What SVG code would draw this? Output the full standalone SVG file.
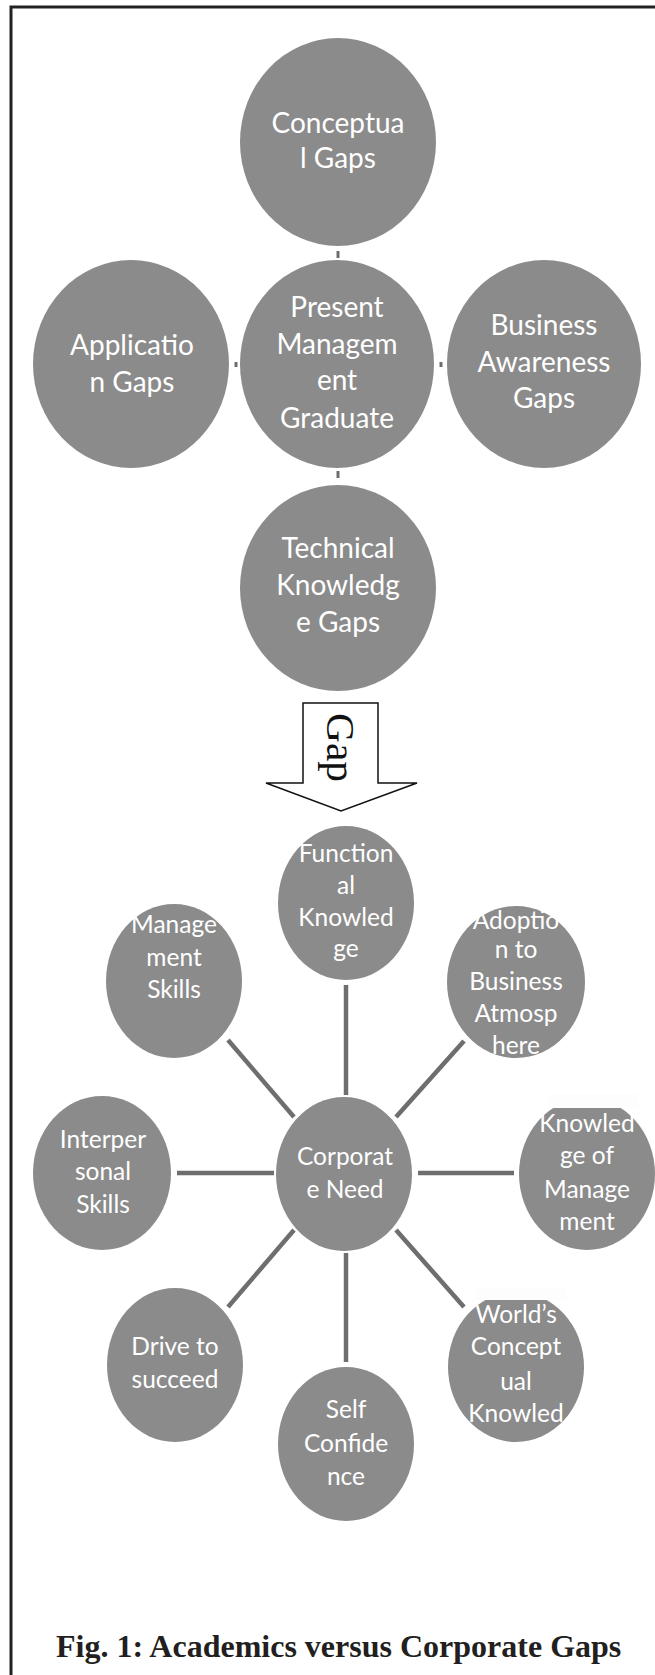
<svg xmlns="http://www.w3.org/2000/svg" width="655" height="1675" viewBox="0 0 655 1675">
<style>
.n{fill:#8b8b8b}
.t{fill:#ffffff;font-family:Lato,"Open Sans",sans-serif;text-anchor:middle}
.tt{font-size:28px}
.tb{font-size:24.5px}
.c{stroke:#6e6e6e;stroke-width:4.5;fill:none}
.k{stroke:#6e6e6e;stroke-width:3;fill:none}
.p{fill:#fdfdfd}
</style>
<rect x="0" y="0" width="655" height="1675" fill="#ffffff"/>
<path d="M11,1675 V7 H655" fill="none" stroke="#222" stroke-width="3"/>

<g id="connectors">
<line class="k" x1="338" y1="251" x2="338" y2="258"/>
<line class="k" x1="236" y1="362" x2="236" y2="367"/>
<line class="k" x1="441" y1="362" x2="441" y2="367"/>
<line class="k" x1="338" y1="471" x2="338" y2="478"/>
<line class="c" x1="346" y1="985" x2="346" y2="1095"/>
<line class="c" x1="228" y1="1040" x2="294" y2="1117"/>
<line class="c" x1="464" y1="1041" x2="396" y2="1117"/>
<line class="c" x1="177" y1="1173" x2="274" y2="1173"/>
<line class="c" x1="418" y1="1173" x2="514" y2="1173"/>
<line class="c" x1="294" y1="1230" x2="228" y2="1307"/>
<line class="c" x1="346" y1="1253" x2="346" y2="1362"/>
<line class="c" x1="396" y1="1230" x2="464" y2="1307"/>
</g>

<g id="conceptual">
<ellipse class="n" cx="338" cy="142" rx="98" ry="104"/>
<text class="t tt" x="338" y="133">Conceptua</text>
<text class="t tt" x="338" y="168">l Gaps</text>
</g>
<g id="application">
<ellipse class="n" cx="131" cy="364" rx="98" ry="104"/>
<text class="t tt" x="132" y="355">Applicatio</text>
<text class="t tt" x="132" y="392">n Gaps</text>
</g>
<g id="present">
<ellipse class="n" cx="337" cy="364" rx="97" ry="104"/>
<text class="t tt" x="337" y="317">Present</text>
<text class="t tt" x="337" y="354">Managem</text>
<text class="t tt" x="337" y="390">ent</text>
<text class="t tt" x="337" y="428">Graduate</text>
</g>
<g id="business">
<ellipse class="n" cx="544" cy="364" rx="97" ry="104"/>
<text class="t tt" x="544" y="335">Business</text>
<text class="t tt" x="544" y="372">Awareness</text>
<text class="t tt" x="544" y="408">Gaps</text>
</g>
<g id="technical">
<ellipse class="n" cx="338" cy="588" rx="98" ry="103"/>
<text class="t tt" x="338" y="558">Technical</text>
<text class="t tt" x="338" y="595">Knowledg</text>
<text class="t tt" x="338" y="632">e Gaps</text>
</g>

<g id="gap-arrow">
<polygon points="303,703 378,703 378,783 417,783 341,811 266,783 303,783" fill="#ffffff" stroke="#111" stroke-width="1.5"/>
<text transform="translate(327,713) rotate(90)" font-family="'Liberation Serif',serif" font-size="40" textLength="69" lengthAdjust="spacingAndGlyphs" fill="#111">Gap</text>
</g>

<g id="functional">
<ellipse class="n" cx="346" cy="903" rx="68" ry="77"/>
<text class="t tb" x="346" y="862">Function</text>
<text class="t tb" x="346" y="894">al</text>
<text class="t tb" x="346" y="926">Knowled</text>
<text class="t tb" x="346" y="957">ge</text>
</g>
<g id="management-skills">
<ellipse class="n" cx="174" cy="981" rx="68" ry="77"/>
<text class="t tb" x="174" y="933">Manage</text>
<text class="t tb" x="174" y="966">ment</text>
<text class="t tb" x="174" y="998">Skills</text>
</g>
<g id="adoption">
<ellipse class="n" cx="516" cy="982" rx="69" ry="76"/>
<text class="t tb" x="516" y="929">Adoptio</text>
<text class="t tb" x="516" y="958">n to</text>
<text class="t tb" x="516" y="990">Business</text>
<text class="t tb" x="516" y="1022">Atmosp</text>
<text class="t tb" x="516" y="1054">here</text>
</g>
<g id="interpersonal">
<ellipse class="n" cx="102" cy="1173" rx="69" ry="77"/>
<text class="t tb" x="103" y="1148">Interper</text>
<text class="t tb" x="103" y="1180">sonal</text>
<text class="t tb" x="103" y="1213">Skills</text>
</g>
<g id="corporate-need">
<ellipse class="n" cx="344" cy="1174" rx="68" ry="77"/>
<text class="t tb" x="345" y="1165">Corporat</text>
<text class="t tb" x="345" y="1198">e Need</text>
</g>
<g id="knowledge-management">
<ellipse class="n" cx="587" cy="1174" rx="68" ry="76"/>
<rect class="p" x="548" y="1094" width="90" height="14"/>
<text class="t tb" x="587" y="1132">Knowled</text>
<text class="t tb" x="587" y="1164">ge of</text>
<text class="t tb" x="587" y="1198">Manage</text>
<text class="t tb" x="587" y="1230">ment</text>
</g>
<g id="drive">
<ellipse class="n" cx="175" cy="1365" rx="68" ry="77"/>
<text class="t tb" x="175" y="1355">Drive to</text>
<text class="t tb" x="175" y="1388">succeed</text>
</g>
<g id="self-confidence">
<ellipse class="n" cx="346" cy="1444" rx="68" ry="77"/>
<text class="t tb" x="346" y="1418">Self</text>
<text class="t tb" x="346" y="1452">Confide</text>
<text class="t tb" x="346" y="1485">nce</text>
</g>
<g id="worlds">
<ellipse class="n" cx="516" cy="1367" rx="68" ry="75"/>
<rect class="p" x="476" y="1288" width="90" height="12"/>
<text class="t tb" x="516" y="1323">World’s</text>
<text class="t tb" x="516" y="1355">Concept</text>
<text class="t tb" x="516" y="1390">ual</text>
<text class="t tb" x="516" y="1422">Knowled</text>
</g>

<text x="56" y="1657" font-family="'Liberation Serif',serif" font-weight="bold" font-size="32" fill="#231f20">Fig. 1: Academics versus Corporate Gaps</text>
</svg>
